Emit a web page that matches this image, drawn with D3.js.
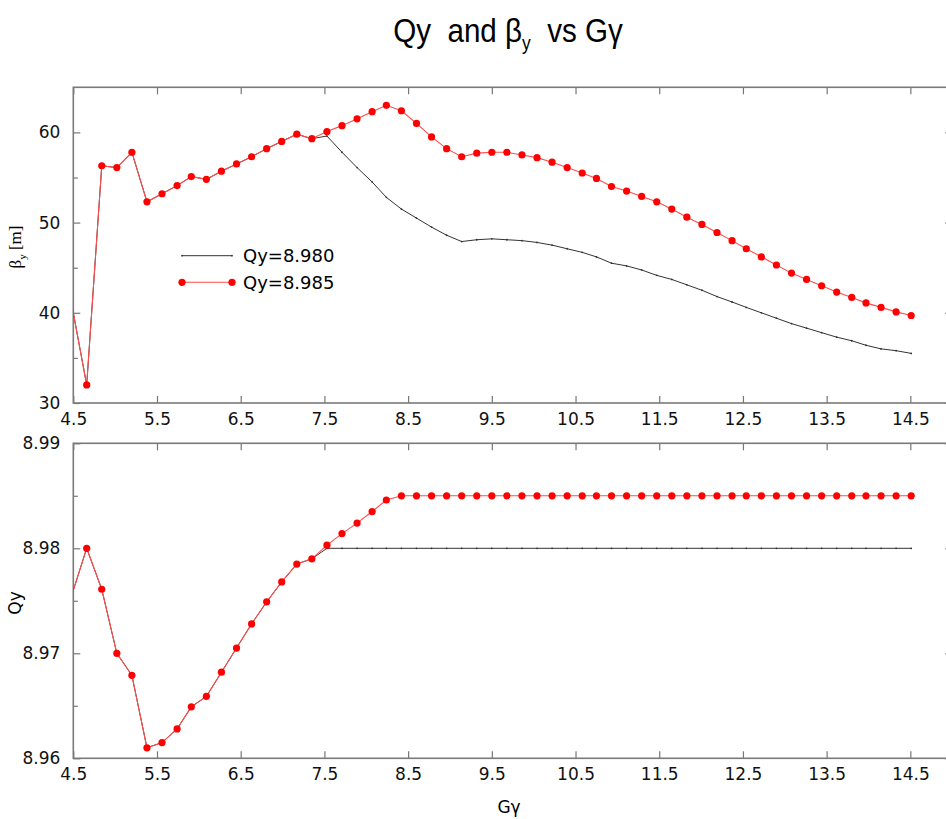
<!DOCTYPE html>
<html>
<head>
<meta charset="utf-8">
<style>
	body { margin: 0; background: #fff; }
	.tick text { font-family: "DejaVu Sans", sans-serif; font-size: 17px; fill: #111; }
	.tick line { stroke: #777; stroke-width: 1.2; }
	.domain { display: none; }
</style>
</head>
<body>

<div id="vis"></div>

<script src="https://d3js.org/d3.v7.min.js"></script>
<script>

	// Data //
	// ---- //

	// G*gamma values (first one lies just left of the axis and is clipped)
	const ggamma = [4.48, 4.66, 4.84, 5.02, 5.20, 5.38, 5.56, 5.74, 5.91, 6.09, 6.27,
		6.45, 6.63, 6.81, 6.99, 7.17, 7.35, 7.53, 7.71, 7.89, 8.07,
		8.24, 8.42, 8.60, 8.78, 8.96, 9.14, 9.32, 9.50, 9.68, 9.86,
		10.04, 10.22, 10.40, 10.58, 10.75, 10.93, 11.11, 11.29, 11.47, 11.65,
		11.83, 12.01, 12.19, 12.37, 12.54, 12.72, 12.90, 13.08, 13.26, 13.44,
		13.62, 13.80, 13.97, 14.15, 14.33, 14.51];

	// beta_y [m]
	const betaQ8980 = [41.0, 32.0, 56.3, 56.1, 57.8, 52.3, 53.2, 54.1, 55.1, 54.8, 55.7,
		56.5, 57.3, 58.2, 59.0, 59.8, 59.3, 59.6, 57.8, 56.1, 54.5,
		52.8, 51.5, 50.5, 49.5, 48.6, 47.9, 48.1, 48.2, 48.1, 48.0,
		47.8, 47.5, 47.1, 46.7, 46.2, 45.5, 45.2, 44.75, 44.15, 43.7,
		43.1, 42.5, 41.8, 41.2, 40.6, 40.0, 39.4, 38.8, 38.3, 37.8,
		37.3, 36.9, 36.4, 36.0, 35.8, 35.5];

	const betaQ8985 = [41.0, 32.0, 56.3, 56.1, 57.8, 52.3, 53.2, 54.1, 55.1, 54.8, 55.7,
		56.5, 57.3, 58.2, 59.0, 59.8, 59.3, 60.1, 60.75, 61.5, 62.3,
		63.0, 62.4, 61.0, 59.5, 58.2, 57.3, 57.7, 57.8, 57.8, 57.5,
		57.2, 56.7, 56.1, 55.5, 54.9, 54.0, 53.5, 52.9, 52.3, 51.5,
		50.6, 49.8, 48.9, 48.0, 47.1, 46.2, 45.3, 44.4, 43.7, 43.0,
		42.3, 41.7, 41.1, 40.6, 40.1, 39.7];

	// Qy
	const qyQ8980 = [8.9755, 8.9800, 8.9761, 8.9700, 8.9679, 8.9610, 8.9615, 8.9628, 8.9649, 8.9659, 8.9682,
		8.9705, 8.9728, 8.9749, 8.9768, 8.9785, 8.9790, 8.980, 8.980, 8.980, 8.980,
		8.980, 8.980, 8.980, 8.980, 8.980, 8.980, 8.980, 8.980, 8.980, 8.980,
		8.980, 8.980, 8.980, 8.980, 8.980, 8.980, 8.980, 8.980, 8.980, 8.980,
		8.980, 8.980, 8.980, 8.980, 8.980, 8.980, 8.980, 8.980, 8.980, 8.980,
		8.980, 8.980, 8.980, 8.980, 8.980, 8.980];

	const qyQ8985 = [8.9755, 8.9800, 8.9761, 8.9700, 8.9679, 8.9610, 8.9615, 8.9628, 8.9649, 8.9659, 8.9682,
		8.9705, 8.9728, 8.9749, 8.9768, 8.9785, 8.9790, 8.9803, 8.9814, 8.9824, 8.9835,
		8.9846, 8.985, 8.985, 8.985, 8.985, 8.985, 8.985, 8.985, 8.985, 8.985,
		8.985, 8.985, 8.985, 8.985, 8.985, 8.985, 8.985, 8.985, 8.985, 8.985,
		8.985, 8.985, 8.985, 8.985, 8.985, 8.985, 8.985, 8.985, 8.985, 8.985,
		8.985, 8.985, 8.985, 8.985, 8.985, 8.985];

	const xTicks = [4.5, 5.5, 6.5, 7.5, 8.5, 9.5, 10.5, 11.5, 12.5, 13.5, 14.5];
	const betaTicks = [30, 40, 50, 60];
	const betaMinor = [35, 45, 55];
	const qyTicks = [8.96, 8.97, 8.98, 8.99];
	const qyMinor = [8.965, 8.975, 8.985];
	const legendLabels = ["Qy=8.980", "Qy=8.985"];


	// ----- //
	// Setup //
	// ----- //

	const W = 946, H = 819;
	const left = 73.3, right = 952.2;

	let svg = d3.select("#vis")
		.append("svg")
			.attr("width", W)
			.attr("height", H)
			.style("display", "block");

	let x = d3.scaleLinear().domain([4.5, 15]).range([left, right]);
	let yBeta = d3.scaleLinear().domain([30, 65]).range([403, 87.3]);
	let yQ = d3.scaleLinear().domain([8.96, 8.99]).range([758.3, 443.3]);

	// Title (condensed look, double spaces kept)
	let title = svg.append("text")
		.attr("x", 508)
		.attr("y", 42)
		.attr("text-anchor", "middle")
		.style("white-space", "pre")
		.style("font-family", "'Liberation Sans', Arial, sans-serif")
		.style("font-size", "34px")
		.attr("transform", "translate(508,0) scale(0.87,1) translate(-508,0)");
	title.append("tspan").text("Qy  and β");
	title.append("tspan").attr("dy", 8).style("font-size", "20px").text("y");
	title.append("tspan").attr("dy", -8).text("  vs Gγ");

	// Panel drawing //
	// ------------- //

	function panel(id, y, ticks, minor, fmt, black, red) {
		let g = svg.append("g");
		let y0 = y.range()[0], y1 = y.range()[1];

		g.append("clipPath").attr("id", id)
			.append("rect")
				.attr("x", left).attr("y", y1)
				.attr("width", right - left).attr("height", y0 - y1);

		// axes (ticks inward)
		g.append("g").attr("transform", "translate(0," + y0 + ")")
			.call(d3.axisBottom(x).tickValues(xTicks).tickSize(-7).tickSizeOuter(0)
				.tickPadding(10).tickFormat(d3.format(".1f")));
		g.append("g").attr("transform", "translate(0," + y1 + ")")
			.call(d3.axisTop(x).tickValues(xTicks).tickSize(-7).tickSizeOuter(0).tickFormat(""));
		g.append("g").attr("transform", "translate(" + left + ",0)")
			.call(d3.axisLeft(y).tickValues(ticks).tickSize(-7).tickSizeOuter(0)
				.tickPadding(13).tickFormat(fmt));
		g.append("g").attr("transform", "translate(" + left + ",0)")
			.call(d3.axisLeft(y).tickValues(minor).tickSize(-4.5).tickSizeOuter(0).tickFormat(""));
		g.append("g").attr("transform", "translate(" + right + ",0)")
			.call(d3.axisRight(y).tickValues(ticks).tickSize(-7).tickSizeOuter(0).tickFormat(""));
		g.append("g").attr("transform", "translate(" + right + ",0)")
			.call(d3.axisRight(y).tickValues(minor).tickSize(-4.5).tickSizeOuter(0).tickFormat(""));

		// frame
		g.append("rect")
			.attr("x", left).attr("y", y1)
			.attr("width", right - left).attr("height", y0 - y1)
			.attr("fill", "none")
			.attr("stroke", "#7a7a7a")
			.attr("stroke-width", 1.6);

		let line = d3.line().x((d, i) => x(ggamma[i])).y(d => y(d));
		let plot = g.append("g").attr("clip-path", "url(#" + id + ")");

		plot.append("path")
			.datum(black)
			.attr("d", line)
			.attr("fill", "none")
			.attr("stroke", "#333")
			.attr("stroke-width", 1);
		plot.selectAll(".bd")
			.data(black.filter((d, i) => ggamma[i] >= 4.5))
			.enter().append("circle")
				.attr("cx", (d, i) => x(ggamma[i + 1]))
				.attr("cy", d => y(d))
				.attr("r", 0.9)
				.attr("fill", "#333");

		plot.append("path")
			.datum(red)
			.attr("d", line)
			.attr("fill", "none")
			.attr("stroke", "#ff4d4d")
			.attr("stroke-width", 1.1);
		plot.selectAll(".rd")
			.data(red.filter((d, i) => ggamma[i] >= 4.5))
			.enter().append("circle")
				.attr("cx", (d, i) => x(ggamma[i + 1]))
				.attr("cy", d => y(d))
				.attr("r", 3.6)
				.attr("fill", "#ff0000");
		return g;
	}

	panel("clip-beta", yBeta, betaTicks, betaMinor, d3.format("d"), betaQ8980, betaQ8985);
	panel("clip-qy", yQ, qyTicks, qyMinor, d3.format(".2f"), qyQ8980, qyQ8985);

	// Axis labels //
	// ----------- //

	let bl = svg.append("text")
		.attr("transform", "translate(21,247) rotate(-90)")
		.attr("text-anchor", "middle")
		.style("white-space", "pre")
		.style("font-family", "'Liberation Serif', 'Times New Roman', serif")
		.style("font-size", "17px");
	bl.append("tspan").text("β");
	bl.append("tspan").attr("dy", 5).style("font-size", "11px").text("y");
	bl.append("tspan").attr("dy", -5).text(" [m]");

	svg.append("text")
		.attr("transform", "translate(21,603) rotate(-90)")
		.attr("text-anchor", "middle")
		.style("font-family", "'DejaVu Sans', sans-serif")
		.style("font-size", "17px")
		.text("Qy");

	svg.append("text")
		.attr("x", 509)
		.attr("y", 813)
		.attr("text-anchor", "middle")
		.style("font-family", "'DejaVu Sans', sans-serif")
		.style("font-size", "17px")
		.text("Gγ");

	// Legend //
	// ------ //

	let leg = svg.append("g");
	const legY = [255.7, 282.3];
	leg.append("line")
		.attr("x1", 182).attr("x2", 232).attr("y1", legY[0]).attr("y2", legY[0])
		.attr("stroke", "#333").attr("stroke-width", 1);
	leg.selectAll(".ld").data([182, 232]).enter().append("circle")
		.attr("cx", d => d).attr("cy", legY[0]).attr("r", 0.9).attr("fill", "#333");
	leg.append("line")
		.attr("x1", 182).attr("x2", 232).attr("y1", legY[1]).attr("y2", legY[1])
		.attr("stroke", "#ff4d4d").attr("stroke-width", 1.1);
	leg.selectAll(".lr").data([182, 232]).enter().append("circle")
		.attr("cx", d => d).attr("cy", legY[1]).attr("r", 3.6).attr("fill", "#ff0000");
	leg.selectAll(".lt").data(legendLabels).enter().append("text")
		.attr("x", 243)
		.attr("y", (d, i) => legY[i] + 6.5)
		.style("font-family", "'DejaVu Sans', sans-serif")
		.style("font-size", "18px")
		.text(d => d);

</script>
</body>
</html>
